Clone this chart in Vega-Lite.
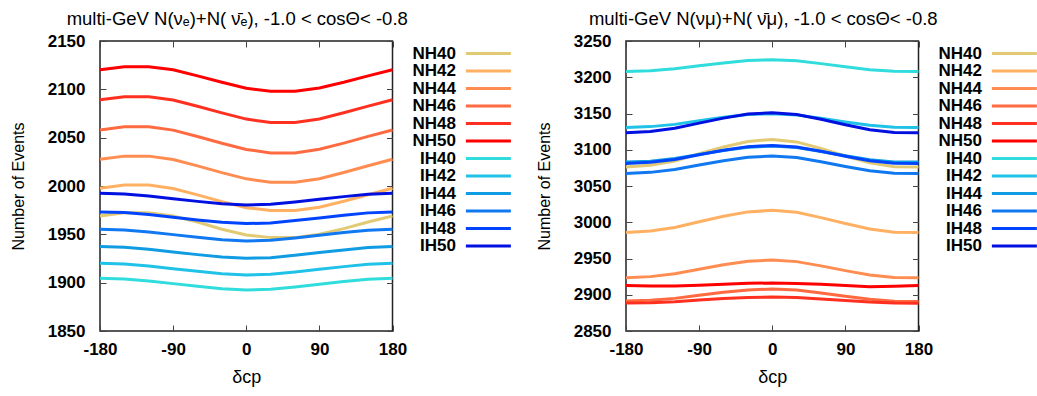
{
  "$schema": "https://vega.github.io/schema/vega-lite/v6.json",
  "padding": {"left": 9, "top": 8, "right": 0, "bottom": 0},
  "config": {
    "font": "Liberation Sans",
    "view": {"stroke": "#222", "strokeWidth": 1.5},
    "axis": {"grid": false, "domain": false, "tickColor": "#444", "tickWidth": 1, "tickSize": -6, "labelFlush": false,
      "labelFont": "Liberation Sans", "labelFontWeight": "bold", "labelFontSize": 17, "labelColor": "black",
      "titleFont": "Liberation Sans", "titleFontWeight": "normal", "titleFontSize": 16, "titleColor": "black"},
    "axisX": {"titlePadding": 11, "titleFontSize": 18, "labelPadding": 16},
    "axisY": {"titlePadding": 21, "labelPadding": 21},
    "legend": {"orient": "right", "offset": 7, "padding": 0, "symbolType": "M-4,0H4", "symbolSize": 126.5625, "symbolStrokeWidth": 3,
      "symbolOpacity": 1, "symbolOffset": 73.875, "rowPadding": -0.5, "labelFont": "Liberation Sans", "labelFontWeight": "bold", "labelFontSize": 17,
      "labelColor": "black", "labelAlign": "right", "labelOffset": -41, "titleFontSize": 1, "titlePadding": 3},
    "title": {"font": "Liberation Sans", "fontSize": 18.5, "fontWeight": "normal", "color": "black", "offset": 4, "baseline": "alphabetic", "dx": -9}
  },
  "datasets": {
    "left": [
      {"s":"NH40","d":-180,"v":1969.0},{"s":"NH40","d":-150,"v":1972.4},{"s":"NH40","d":-120,"v":1972.4},{"s":"NH40","d":-90,"v":1969.0},{"s":"NH40","d":-60,"v":1962.8},{"s":"NH40","d":-30,"v":1955.2},{"s":"NH40","d":0,"v":1949.3},{"s":"NH40","d":30,"v":1946.6},{"s":"NH40","d":60,"v":1946.6},{"s":"NH40","d":90,"v":1950.0},{"s":"NH40","d":120,"v":1955.9},{"s":"NH40","d":150,"v":1962.8},{"s":"NH40","d":180,"v":1969.0},
      {"s":"NH42","d":-180,"v":1997.6},{"s":"NH42","d":-150,"v":2001.0},{"s":"NH42","d":-120,"v":2001.0},{"s":"NH42","d":-90,"v":1997.4},{"s":"NH42","d":-60,"v":1990.8},{"s":"NH42","d":-30,"v":1983.8},{"s":"NH42","d":0,"v":1977.6},{"s":"NH42","d":30,"v":1974.6},{"s":"NH42","d":60,"v":1974.6},{"s":"NH42","d":90,"v":1978.0},{"s":"NH42","d":120,"v":1984.2},{"s":"NH42","d":150,"v":1991.0},{"s":"NH42","d":180,"v":1997.6},
      {"s":"NH44","d":-180,"v":2027.6},{"s":"NH44","d":-150,"v":2030.9},{"s":"NH44","d":-120,"v":2030.9},{"s":"NH44","d":-90,"v":2027.4},{"s":"NH44","d":-60,"v":2020.8},{"s":"NH44","d":-30,"v":2013.8},{"s":"NH44","d":0,"v":2007.4},{"s":"NH44","d":30,"v":2003.8},{"s":"NH44","d":60,"v":2003.8},{"s":"NH44","d":90,"v":2007.6},{"s":"NH44","d":120,"v":2014.0},{"s":"NH44","d":150,"v":2020.9},{"s":"NH44","d":180,"v":2027.6},
      {"s":"NH46","d":-180,"v":2058.0},{"s":"NH46","d":-150,"v":2061.3},{"s":"NH46","d":-120,"v":2061.3},{"s":"NH46","d":-90,"v":2057.8},{"s":"NH46","d":-60,"v":2051.2},{"s":"NH46","d":-30,"v":2044.2},{"s":"NH46","d":0,"v":2037.8},{"s":"NH46","d":30,"v":2034.2},{"s":"NH46","d":60,"v":2034.2},{"s":"NH46","d":90,"v":2038.0},{"s":"NH46","d":120,"v":2044.4},{"s":"NH46","d":150,"v":2051.3},{"s":"NH46","d":180,"v":2058.0},
      {"s":"NH48","d":-180,"v":2089.2},{"s":"NH48","d":-150,"v":2092.3},{"s":"NH48","d":-120,"v":2092.3},{"s":"NH48","d":-90,"v":2089.0},{"s":"NH48","d":-60,"v":2082.5},{"s":"NH48","d":-30,"v":2075.6},{"s":"NH48","d":0,"v":2069.2},{"s":"NH48","d":30,"v":2065.6},{"s":"NH48","d":60,"v":2065.6},{"s":"NH48","d":90,"v":2069.4},{"s":"NH48","d":120,"v":2075.8},{"s":"NH48","d":150,"v":2082.6},{"s":"NH48","d":180,"v":2089.2},
      {"s":"NH50","d":-180,"v":2120.3},{"s":"NH50","d":-150,"v":2123.4},{"s":"NH50","d":-120,"v":2123.4},{"s":"NH50","d":-90,"v":2120.3},{"s":"NH50","d":-60,"v":2113.9},{"s":"NH50","d":-30,"v":2107.3},{"s":"NH50","d":0,"v":2101.1},{"s":"NH50","d":30,"v":2098.1},{"s":"NH50","d":60,"v":2098.1},{"s":"NH50","d":90,"v":2101.3},{"s":"NH50","d":120,"v":2107.3},{"s":"NH50","d":150,"v":2113.9},{"s":"NH50","d":180,"v":2120.3},
      {"s":"IH40","d":-180,"v":1904.5},{"s":"IH40","d":-150,"v":1903.8},{"s":"IH40","d":-120,"v":1901.7},{"s":"IH40","d":-90,"v":1899.0},{"s":"IH40","d":-60,"v":1896.2},{"s":"IH40","d":-30,"v":1893.8},{"s":"IH40","d":0,"v":1892.4},{"s":"IH40","d":30,"v":1893.1},{"s":"IH40","d":60,"v":1895.5},{"s":"IH40","d":90,"v":1898.3},{"s":"IH40","d":120,"v":1901.1},{"s":"IH40","d":150,"v":1903.5},{"s":"IH40","d":180,"v":1904.5},
      {"s":"IH42","d":-180,"v":1920.0},{"s":"IH42","d":-150,"v":1919.3},{"s":"IH42","d":-120,"v":1917.2},{"s":"IH42","d":-90,"v":1914.5},{"s":"IH42","d":-60,"v":1911.7},{"s":"IH42","d":-30,"v":1909.3},{"s":"IH42","d":0,"v":1907.9},{"s":"IH42","d":30,"v":1908.6},{"s":"IH42","d":60,"v":1911.0},{"s":"IH42","d":90,"v":1913.8},{"s":"IH42","d":120,"v":1916.6},{"s":"IH42","d":150,"v":1919.0},{"s":"IH42","d":180,"v":1920.0},
      {"s":"IH44","d":-180,"v":1937.3},{"s":"IH44","d":-150,"v":1936.6},{"s":"IH44","d":-120,"v":1934.5},{"s":"IH44","d":-90,"v":1931.8},{"s":"IH44","d":-60,"v":1929.0},{"s":"IH44","d":-30,"v":1926.6},{"s":"IH44","d":0,"v":1925.2},{"s":"IH44","d":30,"v":1925.9},{"s":"IH44","d":60,"v":1928.3},{"s":"IH44","d":90,"v":1931.1},{"s":"IH44","d":120,"v":1933.9},{"s":"IH44","d":150,"v":1936.3},{"s":"IH44","d":180,"v":1937.3},
      {"s":"IH46","d":-180,"v":1955.2},{"s":"IH46","d":-150,"v":1954.5},{"s":"IH46","d":-120,"v":1952.4},{"s":"IH46","d":-90,"v":1949.7},{"s":"IH46","d":-60,"v":1946.9},{"s":"IH46","d":-30,"v":1944.5},{"s":"IH46","d":0,"v":1943.1},{"s":"IH46","d":30,"v":1943.8},{"s":"IH46","d":60,"v":1946.2},{"s":"IH46","d":90,"v":1949.0},{"s":"IH46","d":120,"v":1951.8},{"s":"IH46","d":150,"v":1954.2},{"s":"IH46","d":180,"v":1955.2},
      {"s":"IH48","d":-180,"v":1973.2},{"s":"IH48","d":-150,"v":1972.5},{"s":"IH48","d":-120,"v":1970.4},{"s":"IH48","d":-90,"v":1967.7},{"s":"IH48","d":-60,"v":1964.9},{"s":"IH48","d":-30,"v":1962.5},{"s":"IH48","d":0,"v":1961.1},{"s":"IH48","d":30,"v":1961.8},{"s":"IH48","d":60,"v":1964.2},{"s":"IH48","d":90,"v":1967.0},{"s":"IH48","d":120,"v":1969.8},{"s":"IH48","d":150,"v":1972.2},{"s":"IH48","d":180,"v":1973.2},
      {"s":"IH50","d":-180,"v":1992.4},{"s":"IH50","d":-150,"v":1991.7},{"s":"IH50","d":-120,"v":1989.6},{"s":"IH50","d":-90,"v":1986.9},{"s":"IH50","d":-60,"v":1984.1},{"s":"IH50","d":-30,"v":1981.7},{"s":"IH50","d":0,"v":1980.3},{"s":"IH50","d":30,"v":1981.0},{"s":"IH50","d":60,"v":1983.4},{"s":"IH50","d":90,"v":1986.2},{"s":"IH50","d":120,"v":1989.0},{"s":"IH50","d":150,"v":1991.4},{"s":"IH50","d":180,"v":1992.4}
    ],
    "right": [
      {"s":"NH40","d":-180,"v":3076.2},{"s":"NH40","d":-150,"v":3078.5},{"s":"NH40","d":-120,"v":3084.6},{"s":"NH40","d":-90,"v":3094.4},{"s":"NH40","d":-60,"v":3103.9},{"s":"NH40","d":-30,"v":3111.5},{"s":"NH40","d":0,"v":3114.2},{"s":"NH40","d":30,"v":3110.8},{"s":"NH40","d":60,"v":3101.7},{"s":"NH40","d":90,"v":3091.4},{"s":"NH40","d":120,"v":3081.9},{"s":"NH40","d":150,"v":3076.6},{"s":"NH40","d":180,"v":3076.2},
      {"s":"NH42","d":-180,"v":2986.0},{"s":"NH42","d":-150,"v":2987.8},{"s":"NH42","d":-120,"v":2992.7},{"s":"NH42","d":-90,"v":3000.6},{"s":"NH42","d":-60,"v":3008.2},{"s":"NH42","d":-30,"v":3014.3},{"s":"NH42","d":0,"v":3016.4},{"s":"NH42","d":30,"v":3013.7},{"s":"NH42","d":60,"v":3006.4},{"s":"NH42","d":90,"v":2998.2},{"s":"NH42","d":120,"v":2990.6},{"s":"NH42","d":150,"v":2986.3},{"s":"NH42","d":180,"v":2986.0},
      {"s":"NH44","d":-180,"v":2923.5},{"s":"NH44","d":-150,"v":2925.0},{"s":"NH44","d":-120,"v":2928.9},{"s":"NH44","d":-90,"v":2935.2},{"s":"NH44","d":-60,"v":2941.3},{"s":"NH44","d":-30,"v":2946.2},{"s":"NH44","d":0,"v":2947.9},{"s":"NH44","d":30,"v":2945.7},{"s":"NH44","d":60,"v":2939.8},{"s":"NH44","d":90,"v":2933.3},{"s":"NH44","d":120,"v":2927.2},{"s":"NH44","d":150,"v":2923.7},{"s":"NH44","d":180,"v":2923.5},
      {"s":"NH46","d":-180,"v":2891.4},{"s":"NH46","d":-150,"v":2892.4},{"s":"NH46","d":-120,"v":2895.0},{"s":"NH46","d":-90,"v":2899.3},{"s":"NH46","d":-60,"v":2903.4},{"s":"NH46","d":-30,"v":2906.7},{"s":"NH46","d":0,"v":2907.9},{"s":"NH46","d":30,"v":2906.4},{"s":"NH46","d":60,"v":2902.5},{"s":"NH46","d":90,"v":2898.0},{"s":"NH46","d":120,"v":2893.9},{"s":"NH46","d":150,"v":2891.2},{"s":"NH46","d":180,"v":2890.8},
      {"s":"NH48","d":-180,"v":2888.6},{"s":"NH48","d":-150,"v":2889.1},{"s":"NH48","d":-120,"v":2890.4},{"s":"NH48","d":-90,"v":2892.6},{"s":"NH48","d":-60,"v":2894.7},{"s":"NH48","d":-30,"v":2896.3},{"s":"NH48","d":0,"v":2896.9},{"s":"NH48","d":30,"v":2896.2},{"s":"NH48","d":60,"v":2894.2},{"s":"NH48","d":90,"v":2892.0},{"s":"NH48","d":120,"v":2889.9},{"s":"NH48","d":150,"v":2888.6},{"s":"NH48","d":180,"v":2888.4},
      {"s":"NH50","d":-180,"v":2912.9},{"s":"NH50","d":-150,"v":2912.2},{"s":"NH50","d":-120,"v":2912.0},{"s":"NH50","d":-90,"v":2913.0},{"s":"NH50","d":-60,"v":2914.6},{"s":"NH50","d":-30,"v":2915.8},{"s":"NH50","d":0,"v":2916.2},{"s":"NH50","d":30,"v":2915.6},{"s":"NH50","d":60,"v":2914.4},{"s":"NH50","d":90,"v":2912.6},{"s":"NH50","d":120,"v":2911.1},{"s":"NH50","d":150,"v":2911.8},{"s":"NH50","d":180,"v":2912.9},
      {"s":"IH40","d":-180,"v":3208.1},{"s":"IH40","d":-150,"v":3209.1},{"s":"IH40","d":-120,"v":3211.6},{"s":"IH40","d":-90,"v":3215.8},{"s":"IH40","d":-60,"v":3219.8},{"s":"IH40","d":-30,"v":3223.0},{"s":"IH40","d":0,"v":3224.1},{"s":"IH40","d":30,"v":3222.7},{"s":"IH40","d":60,"v":3218.8},{"s":"IH40","d":90,"v":3214.5},{"s":"IH40","d":120,"v":3210.5},{"s":"IH40","d":150,"v":3208.3},{"s":"IH40","d":180,"v":3208.1},
      {"s":"IH42","d":-180,"v":3130.8},{"s":"IH42","d":-150,"v":3131.9},{"s":"IH42","d":-120,"v":3135.0},{"s":"IH42","d":-90,"v":3139.9},{"s":"IH42","d":-60,"v":3144.7},{"s":"IH42","d":-30,"v":3148.5},{"s":"IH42","d":0,"v":3149.8},{"s":"IH42","d":30,"v":3148.1},{"s":"IH42","d":60,"v":3143.5},{"s":"IH42","d":90,"v":3138.4},{"s":"IH42","d":120,"v":3133.7},{"s":"IH42","d":150,"v":3131.0},{"s":"IH42","d":180,"v":3130.8},
      {"s":"IH44","d":-180,"v":3083.0},{"s":"IH44","d":-150,"v":3084.3},{"s":"IH44","d":-120,"v":3087.8},{"s":"IH44","d":-90,"v":3093.6},{"s":"IH44","d":-60,"v":3099.1},{"s":"IH44","d":-30,"v":3103.5},{"s":"IH44","d":0,"v":3105.0},{"s":"IH44","d":30,"v":3103.0},{"s":"IH44","d":60,"v":3097.7},{"s":"IH44","d":90,"v":3091.8},{"s":"IH44","d":120,"v":3086.3},{"s":"IH44","d":150,"v":3083.2},{"s":"IH44","d":180,"v":3083.0},
      {"s":"IH46","d":-180,"v":3067.4},{"s":"IH46","d":-150,"v":3068.8},{"s":"IH46","d":-120,"v":3072.7},{"s":"IH46","d":-90,"v":3078.9},{"s":"IH46","d":-60,"v":3084.9},{"s":"IH46","d":-30,"v":3089.7},{"s":"IH46","d":0,"v":3091.4},{"s":"IH46","d":30,"v":3089.2},{"s":"IH46","d":60,"v":3083.5},{"s":"IH46","d":90,"v":3077.0},{"s":"IH46","d":120,"v":3071.0},{"s":"IH46","d":150,"v":3067.6},{"s":"IH46","d":180,"v":3067.4},
      {"s":"IH48","d":-180,"v":3081.2},{"s":"IH48","d":-150,"v":3082.7},{"s":"IH48","d":-120,"v":3086.7},{"s":"IH48","d":-90,"v":3093.1},{"s":"IH48","d":-60,"v":3099.3},{"s":"IH48","d":-30,"v":3104.3},{"s":"IH48","d":0,"v":3106.0},{"s":"IH48","d":30,"v":3103.8},{"s":"IH48","d":60,"v":3097.8},{"s":"IH48","d":90,"v":3091.1},{"s":"IH48","d":120,"v":3084.9},{"s":"IH48","d":150,"v":3081.4},{"s":"IH48","d":180,"v":3081.2},
      {"s":"IH50","d":-180,"v":3123.5},{"s":"IH50","d":-150,"v":3125.2},{"s":"IH50","d":-120,"v":3129.6},{"s":"IH50","d":-90,"v":3136.7},{"s":"IH50","d":-60,"v":3143.6},{"s":"IH50","d":-30,"v":3149.2},{"s":"IH50","d":0,"v":3151.1},{"s":"IH50","d":30,"v":3148.6},{"s":"IH50","d":60,"v":3142.0},{"s":"IH50","d":90,"v":3134.5},{"s":"IH50","d":120,"v":3127.6},{"s":"IH50","d":150,"v":3123.8},{"s":"IH50","d":180,"v":3123.5}
    ]
  },
  "spacing": 17,
  "resolve": {"scale": {"color": "independent"}, "legend": {"color": "independent"}},
  "hconcat": [
    {
      "width": 292.5, "height": 290,
      "title": "multi-GeV N(νₑ)+N( ν̄ₑ), -1.0 < cosΘ< -0.8",
      "data": {"name": "left"},
      "layer": [
        {"mark": {"type": "line", "strokeWidth": 3},
         "encoding": {
           "x": {"field": "d", "type": "quantitative", "scale": {"domain": [-180, 180], "nice": false}, "axis": {"orient": "bottom", "values": [-180, -90, 0, 90, 180], "labelExpr": "'' + datum.value", "title": "δcp"}},
           "y": {"field": "v", "type": "quantitative", "scale": {"domain": [1850, 2150], "nice": false, "zero": false}, "axis": {"orient": "left", "values": [1850, 1900, 1950, 2000, 2050, 2100, 2150], "labelExpr": "'' + datum.value", "title": "Number of Events"}},
           "color": {"field": "s", "type": "nominal", "title": " ",
             "scale": {"domain": ["NH40","NH42","NH44","NH46","NH48","NH50","IH40","IH42","IH44","IH46","IH48","IH50"],
               "range": ["#e2ca74","#ffb062","#ff8c50","#ff6a40","#ff3020","#ff0000","#30dcdc","#20c2e8","#109ce2","#1078f0","#0044ff","#0010e0"]}}
         }},
        {"mark": {"type": "line", "strokeOpacity": 0},
         "encoding": {
           "x": {"field": "d", "type": "quantitative", "scale": {"domain": [-180, 180], "nice": false}, "axis": {"orient": "top", "values": [-180, -90, 0, 90, 180], "labels": false, "title": null}},
           "y": {"field": "v", "type": "quantitative", "scale": {"domain": [1850, 2150], "nice": false, "zero": false}, "axis": {"orient": "right", "values": [1850, 1900, 1950, 2000, 2050, 2100, 2150], "labels": false, "title": null}},
           "detail": {"field": "s"}
         }}
      ],
      "resolve": {"axis": {"x": "independent", "y": "independent"}}
    },
    {
      "width": 292.5, "height": 290,
      "title": "multi-GeV N(νμ)+N( ν̄μ), -1.0 < cosΘ< -0.8",
      "data": {"name": "right"},
      "layer": [
        {"mark": {"type": "line", "strokeWidth": 3},
         "encoding": {
           "x": {"field": "d", "type": "quantitative", "scale": {"domain": [-180, 180], "nice": false}, "axis": {"orient": "bottom", "values": [-180, -90, 0, 90, 180], "labelExpr": "'' + datum.value", "title": "δcp"}},
           "y": {"field": "v", "type": "quantitative", "scale": {"domain": [2850, 3250], "nice": false, "zero": false}, "axis": {"orient": "left", "values": [2850, 2900, 2950, 3000, 3050, 3100, 3150, 3200, 3250], "labelExpr": "'' + datum.value", "title": "Number of Events"}},
           "color": {"field": "s", "type": "nominal", "title": " ",
             "scale": {"domain": ["NH40","NH42","NH44","NH46","NH48","NH50","IH40","IH42","IH44","IH46","IH48","IH50"],
               "range": ["#e2ca74","#ffb062","#ff8c50","#ff6a40","#ff3020","#ff0000","#30dcdc","#20c2e8","#109ce2","#1078f0","#0044ff","#0010e0"]}}
         }},
        {"mark": {"type": "line", "strokeOpacity": 0},
         "encoding": {
           "x": {"field": "d", "type": "quantitative", "scale": {"domain": [-180, 180], "nice": false}, "axis": {"orient": "top", "values": [-180, -90, 0, 90, 180], "labels": false, "title": null}},
           "y": {"field": "v", "type": "quantitative", "scale": {"domain": [2850, 3250], "nice": false, "zero": false}, "axis": {"orient": "right", "values": [2850, 2900, 2950, 3000, 3050, 3100, 3150, 3200, 3250], "labels": false, "title": null}},
           "detail": {"field": "s"}
         }}
      ],
      "resolve": {"axis": {"x": "independent", "y": "independent"}}
    }
  ]
}
